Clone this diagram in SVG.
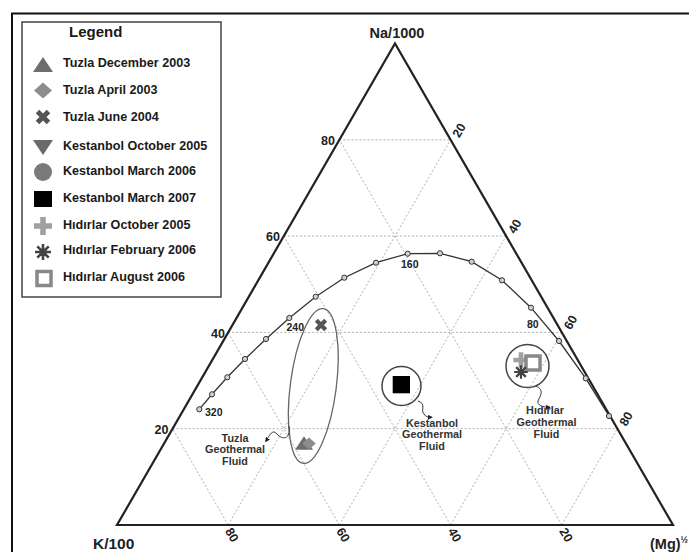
<svg xmlns="http://www.w3.org/2000/svg" xmlns:xlink="http://www.w3.org/1999/xlink" width="689" height="552" viewBox="0 0 689 552">
<style>
text{font-family:"Liberation Sans",Arial,sans-serif;font-weight:bold;fill:#1a1a1a}
.leg{font-size:12.6px}
.tick{font-size:12.5px;fill:#222}
.corner{font-size:14.5px;fill:#222}
.fluid{font-size:10.8px;fill:#333;text-anchor:middle}
.grid{stroke:#b0b0b0;stroke-width:1;stroke-dasharray:2 2;fill:none}
.axis{stroke:#222;stroke-width:2.2;fill:none}
.curve{stroke:#333;stroke-width:1.3;fill:none}
.pt{fill:#d0d0d0;stroke:#333;stroke-width:1}
.conn{stroke:#333;stroke-width:1;fill:none}
.ring{stroke:#444;stroke-width:1.5;fill:none}
</style>
<defs>
<polygon id="triUp" points="-10,7.5 10,7.5 0,-7.5" fill="#6e6e6e"/>
<polygon id="diam" points="0,-8 9,0 0,8 -9,0" fill="#8c8c8c"/>
<path id="xm" d="M-5.5,-5.5 L5.5,5.5 M5.5,-5.5 L-5.5,5.5" stroke="#555" stroke-width="5"/>
<polygon id="triDn" points="-10,-7.5 10,-7.5 0,7.5" fill="#6a6a6a"/>
<circle id="circ" r="9" fill="#7a7a7a"/>
<rect id="sq" x="-9" y="-8" width="18" height="16" fill="#000"/>
<path id="plus" d="M-9,0 H9 M0,-9 V9" stroke="#a0a0a0" stroke-width="5.5"/>
<g id="ast" stroke="#444" stroke-width="2.6"><path d="M0,-8 V8 M-8,0 H8 M-5.7,-5.7 L5.7,5.7 M5.7,-5.7 L-5.7,5.7"/><circle r="3.5" fill="#444" stroke="none"/></g>
<rect id="osq" x="-7" y="-7" width="14" height="14" fill="#fff" stroke="#888" stroke-width="3.5"/>
<marker id="ah" viewBox="0 0 6 6" refX="5" refY="3" markerWidth="5" markerHeight="5" orient="auto"><path d="M0,0 L6,3 L0,6 z" fill="#222"/></marker>
</defs>
<rect x="12" y="13.5" width="690" height="550" fill="#fff" stroke="#111" stroke-width="2"/>

<g id="legend">
<rect x="22" y="22" width="199" height="275" fill="#fff" stroke="#444" stroke-width="1.5"/>
<text x="69" y="37" style="font-size:15px">Legend</text>
<use xlink:href="#triUp" x="43" y="64.5"/><text class="leg" x="63" y="67">Tuzla December 2003</text>
<use xlink:href="#diam" x="43" y="90.5"/><text class="leg" x="63" y="94">Tuzla April 2003</text>
<use xlink:href="#xm" x="43" y="117"/><text class="leg" x="63" y="121">Tuzla June 2004</text>
<use xlink:href="#triDn" x="43" y="147.5"/><text class="leg" x="63" y="150">Kestanbol October 2005</text>
<use xlink:href="#circ" x="43" y="172"/><text class="leg" x="63" y="175">Kestanbol March 2006</text>
<use xlink:href="#sq" x="43" y="199"/><text class="leg" x="63" y="202">Kestanbol March 2007</text>
<use xlink:href="#plus" x="43" y="226"/><text class="leg" x="63" y="229">Hıdırlar October 2005</text>
<use xlink:href="#ast" x="43" y="252"/><text class="leg" x="63" y="254">Hıdırlar February 2006</text>
<use xlink:href="#osq" x="44" y="278.5"/><text class="leg" x="63" y="281">Hıdırlar August 2006</text>
</g>

<g id="grid">
<path class="grid" d="M172.6,428.7 H617.4 M228.2,332.4 H561.8 M283.8,236.1 H506.2 M339.4,139.8 H450.6
M228.2,525 L450.6,139.8 M339.4,525 L506.2,236.1 M450.6,525 L561.8,332.4 M561.8,525 L617.4,428.7
M561.8,525 L339.4,139.8 M450.6,525 L283.8,236.1 M339.4,525 L228.2,332.4 M228.2,525 L172.6,428.7"/>
</g>

<g id="triangle">
<polygon class="axis" points="117,525 673,525 395,43.5" stroke-linejoin="miter"/>
<text class="corner" x="397" y="37.5" text-anchor="middle">Na/1000</text>
<text class="corner" x="93" y="549" style="font-size:15.5px">K/100</text>
<text class="corner" x="650" y="549">(Mg)<tspan style="font-size:9px" dy="-6">½</tspan></text>
<text class="tick" x="335" y="145" text-anchor="end">80</text>
<text class="tick" x="280" y="241" text-anchor="end">60</text>
<text class="tick" x="225" y="337.5" text-anchor="end">40</text>
<text class="tick" x="168.5" y="434" text-anchor="end">20</text>
<text class="tick" transform="translate(224.7,531) rotate(60)">80</text>
<text class="tick" transform="translate(335.9,531) rotate(60)">60</text>
<text class="tick" transform="translate(447.6,531) rotate(60)">40</text>
<text class="tick" transform="translate(559,531) rotate(60)">20</text>
<text class="tick" transform="translate(459.3,138.5) rotate(-60)">20</text>
<text class="tick" transform="translate(515,234.5) rotate(-60)">40</text>
<text class="tick" transform="translate(570.7,330.5) rotate(-60)">60</text>
<text class="tick" transform="translate(626.3,427) rotate(-60)">80</text>
</g>

<g id="equilibrium-curve">
<polyline class="curve" points="199.3,409.3 212,394.3 227.3,377.3 245,359 266,339 289.3,318 315.7,296.7 344.3,277.7 376,262.7 407.7,253.7 440,253.3 471.7,261.7 502,280.3 531,307.7 559,341 585.7,378.3 609,416"/>
<g class="pt">
<circle cx="199.3" cy="409.3" r="2.6"/><circle cx="212" cy="394.3" r="2.6"/><circle cx="227.3" cy="377.3" r="2.6"/><circle cx="245" cy="359" r="2.6"/><circle cx="266" cy="339" r="2.6"/><circle cx="289.3" cy="318" r="2.6"/><circle cx="315.7" cy="296.7" r="2.6"/><circle cx="344.3" cy="277.7" r="2.6"/><circle cx="376" cy="262.7" r="2.6"/><circle cx="407.7" cy="253.7" r="2.6"/><circle cx="440" cy="253.3" r="2.6"/><circle cx="471.7" cy="261.7" r="2.6"/><circle cx="502" cy="280.3" r="2.6"/><circle cx="531" cy="307.7" r="2.6"/><circle cx="559" cy="341" r="2.6"/><circle cx="585.7" cy="378.3" r="2.6"/><circle cx="609" cy="416" r="2.6"/>
</g>
<text class="tick" x="205" y="416" style="font-size:10.5px">320</text>
<text class="tick" x="286.5" y="331" style="font-size:10.5px">240</text>
<text class="tick" x="401" y="268" style="font-size:10.5px">160</text>
<text class="tick" x="527" y="328" style="font-size:10.5px">80</text>
</g>

<g id="tuzla">
<ellipse cx="313.3" cy="386" rx="23" ry="78" transform="rotate(7.4 313.3 386)" fill="none" stroke="#666" stroke-width="1.3"/>
<use xlink:href="#xm" transform="translate(321,325) scale(0.85)"/>
<use xlink:href="#triUp" transform="translate(304,443) scale(0.9)"/>
<use xlink:href="#diam" transform="translate(309,443.5) scale(0.75)"/>
<text class="fluid" x="235" y="441.7">Tuzla</text>
<text class="fluid" x="235" y="453.3">Geothermal</text>
<text class="fluid" x="235" y="465">Fluid</text>
</g>

<g id="kestanbol">
<circle class="ring" cx="401.5" cy="386" r="19.5"/>
<rect x="392.7" y="376" width="17.3" height="17.3" fill="#000"/>
<text class="fluid" x="432" y="426.7">Kestanbol</text>
<text class="fluid" x="432" y="438.3">Geothermal</text>
<text class="fluid" x="432" y="450">Fluid</text>
</g>

<g id="hidirlar">
<circle class="ring" cx="527.5" cy="366" r="21.5"/>
<use xlink:href="#plus" transform="translate(521,360) scale(0.85)"/>
<use xlink:href="#osq" x="533" y="363"/>
<use xlink:href="#ast" transform="translate(521,372) scale(0.85)"/>
<text class="fluid" x="545" y="414.3">Hıdırlar</text>
<text class="fluid" x="546.5" y="426">Geothermal</text>
<text class="fluid" x="546.5" y="438.3">Fluid</text>
</g>

<g id="connectors">
<path class="conn" d="M289,426 C291,440 282,440 277,434 C272,428 269,437 265.5,441.5" marker-end="url(#ah)"/>
<path class="conn" d="M418,401 C427,404 420,410 424,414 C426,417 428,417.3 432,417.3" marker-end="url(#ah)"/>
<path class="conn" d="M536,386 C545,390 540,396 538,401 C537,405 542,407.3 550,407.3" marker-end="url(#ah)"/>
</g>
</svg>
